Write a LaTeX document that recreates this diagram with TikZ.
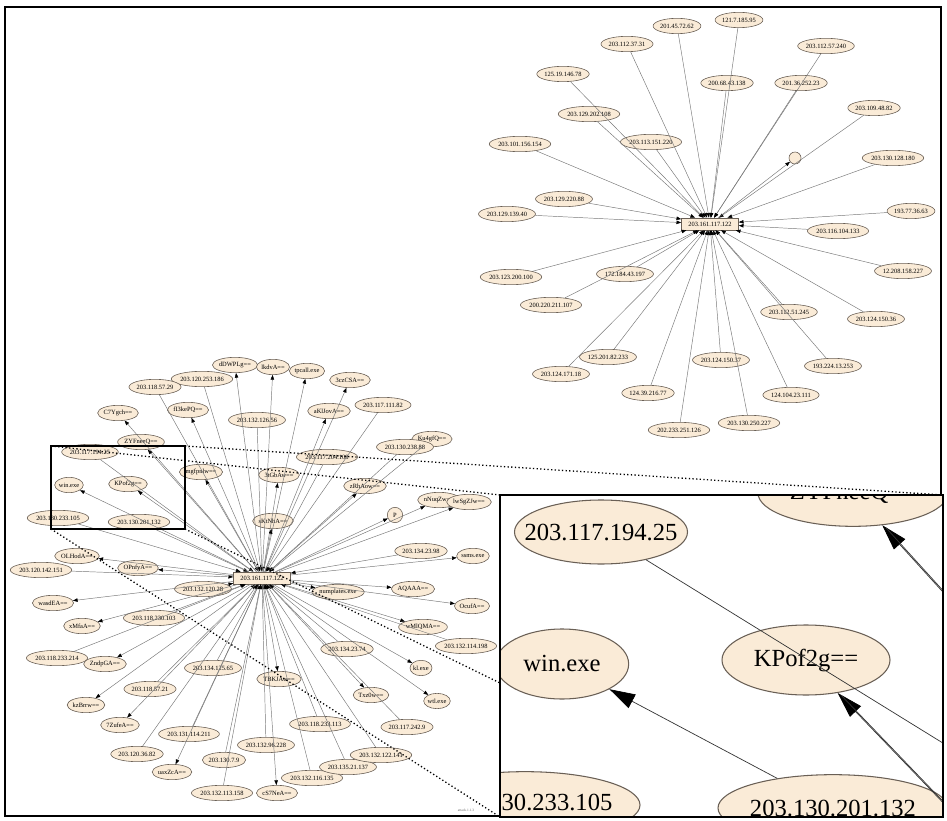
\documentclass[tikz,border=0pt]{standalone}
\usepackage{fontspec}
\setmainfont{Liberation Serif}
\usetikzlibrary{shapes.geometric,arrows.meta}
\definecolor{nodefill}{RGB}{250,235,215}
\definecolor{nodeline}{RGB}{105,95,85}
\definecolor{edgegray}{RGB}{120,120,120}
\tikzset{
  ip/.style={ellipse,draw=nodeline,fill=nodefill,line width=0.5pt,inner sep=0pt,
    minimum width=0.46cm,minimum height=0.46cm,font=\fontsize{5.5}{6}\selectfont},
  dotnode/.style={circle,draw=nodeline,fill=nodefill,line width=0.5pt,inner sep=0pt,minimum size=0.36cm},
  hubbox/.style={rectangle,draw=nodeline,fill=nodefill,line width=0.5pt,inner sep=0pt,
    minimum width=1.71cm,minimum height=0.36cm,font=\fontsize{5.5}{6}\selectfont},
  conn/.style={draw=edgegray,line width=0.4pt,-{Triangle[length=4pt,width=3pt,color=black]}},
  zoomnode/.style={ellipse,draw=nodeline,fill=nodefill,line width=0.9pt,inner sep=0pt,
    font=\fontsize{21}{23}\selectfont},
  zoomconn/.style={draw=black!80,line width=0.6pt,-{Triangle[length=22pt,width=13pt,color=black]}},
  zoomline/.style={draw=black!80,line width=0.6pt},
  dotted lens/.style={black,line width=1.1pt,dotted},
}
\begin{document}
\begin{tikzpicture}[x=0.03cm,y=-0.03cm]
  \useasboundingbox (0,0) rectangle (947,821);
  \draw[line width=1.5pt] (5,7) rectangle (941,816);

  % upper graph
  \node[hubbox] (hubA) at (710,224) {203.161.117.122};
  \foreach \n/\x/\y/\lab in {a1/677/26/201.45.72.62, a2/739/20/121.7.185.95,
      a3/627/44/203.112.37.31, a4/826/46/203.112.57.240, a5/563/74/125.19.146.78,
      a6/727/83/200.68.43.138, a7/801/83/201.36.252.23, a8/874/108/203.109.48.82,
      a9/589/114/203.129.202.108, a10/651/142/203.113.151.220, a11/520/144/203.101.156.154,
      a13/893/158/203.130.128.180, a14/564/199/203.129.220.88, a15/507/214/203.129.139.40,
      a16/911/211/193.77.36.63, a17/838/231/203.116.104.133, a18/511/277/203.123.200.100,
      a19/625/274/172.184.43.197, a20/903/271/12.208.158.227, a21/551/305/200.220.211.107,
      a22/789/312/203.112.51.245, a23/876/319/203.124.150.36, a24/608/357/125.201.82.233,
      a25/721/360/203.124.150.37, a26/561/374/203.124.171.18, a27/833/366/193.224.13.253,
      a28/648/393/124.39.216.77, a29/791/395/124.104.23.111, a30/749/423/203.130.250.227,
      a31/679/430/202.233.251.126}
    \node[ip] (\n) at (\x,\y) {\lab};
  \node[dotnode] (a12) at (795,158) {};
  \foreach \n in {1,...,11,13,14,...,31}
    \draw[conn] (a\n) -- (hubA);
  \draw[conn] (hubA) -- (a12);

  % lower graph
  \node[hubbox] (hubB) at (262,578) {203.161.117.122};
  \foreach \n/\x/\y/\lab in {b1/202/379/203.120.253.186, b2/155/387/203.118.57.29,
      b3/257/420/203.132.126.56, b4/383/405/203.117.111.82, b5/432/439/Ku4gfQ==,
      b6/405/447/203.130.238.88, b7/90/452/203.117.194.25, b8/327/457/203.117.204.108,
      b9/58/518/203.130.233.105, b10/139/522/203.130.201.132, b11/41/570/203.120.142.151,
      b12/203/589/203.132.120.28, b13/154/618/203.118.230.103, b14/57/658/203.118.233.214,
      b15/213/668/203.134.125.65, b16/150/689/203.118.57.21, b17/189/734/203.131.114.211,
      b18/137/754/203.120.36.82, b19/224/760/203.130.7.9, b20/222/793/203.132.113.158,
      b21/266/745/203.132.96.228, b22/312/778/203.132.116.135, b23/348/767/203.135.21.137,
      b24/381/755/203.132.122.141, b25/320/724/203.118.233.113, b26/407/727/203.117.242.9,
      b27/347/649/203.134.23.74, b28/466/646/203.132.114.198, b29/421/551/203.134.23.98}
    \node[ip] (\n) at (\x,\y) {\lab};
  \foreach \n/\x/\y/\lab in {c1/235/365/dDWPLg==, c2/273/367/lkdvA==, c3/307/371/tpcall.exe,
      c4/350/380/3czCSA==, c5/329/411/aKlJovA==, c6/118/413/C7Ygch==, c7/188/410/fI3kePQ==,
      c8/141/442/ZYFneeQ==, c9/201/472/mgfpnlw==, c10/279/475/3tGbAw==, c11/69/485/win.exe,
      c12/128/484/KPof2g==, c13/365/486/zRhAow==, c14/439/500/nNuqZw==, c15/469/502/lwSgZJw==,
      c16/395/515/P, c17/273/521/sKtNhA==, c18/473/556/ssms.exe, c19/77/556/OLHodA==,
      c20/138/568/OPnfyA==, c21/338/592/numplates.exe, c22/413/589/AQAAA==, c23/472/606/OcufA==,
      c24/53/603/wasdEA==, c25/82/626/xMfaA==, c26/423/627/wMlQMA==, c27/105/664/ZndpGA==,
      c28/421/668/kl.exe, c29/371/695/Txz0w==, c30/437/701/wtl.exe, c31/279/679/TBKJAw==,
      c32/86/705/kzBrrw==, c33/120/725/7ZufeA==, c34/172/772/uaxZcA==, c35/277/793/cS7NeA==}
    \node[ip] (\n) at (\x,\y) {\lab};
  \foreach \n in {1,...,29}
    \draw[conn] (b\n) -- (hubB);
  \foreach \n in {1,...,35}
    \draw[conn] (hubB) -- (c\n);
  \node[font=\fontsize{3}{3}\selectfont,text=black!60] (credit) at (466,810) {attack.1.1.3};

  % zoom frame and lens lines
  \coordinate (r1) at (51,446);
  \coordinate (r2) at (185,446);
  \coordinate (r3) at (51,529);
  \coordinate (r4) at (185,529);
  \coordinate (z1) at (500,495);
  \coordinate (z2) at (943,495);
  \coordinate (z3) at (500,817);
  \coordinate (z4) at (500,683);
  \draw[line width=1.3pt] (r1) rectangle (r4);
  \draw[dotted lens] (r1) -- (z1);
  \draw[dotted lens] (r2) -- (z2);
  \draw[dotted lens] (r3) -- (z3);
  \draw[dotted lens] (r4) -- (z4);

  % magnified inset
  \fill[white] (500,495) rectangle (943,817);
  \begin{scope}
    \clip (500,495) rectangle (943,817);
    \node[zoomnode,minimum width=5.19cm,minimum height=1.92cm] (zA) at (601,532) {\makebox[0pt]{203.117.194.25}};
    \node[zoomnode,minimum width=4.0cm,minimum height=2.1cm] (zwin) at (562,664) {\makebox[0pt]{win.exe}};
    \node[zoomnode,minimum width=5.04cm,minimum height=2.1cm] (zK) at (806,660) {\makebox[0pt]{KPof2g==}};
    \node[zoomnode,minimum width=6.9cm,minimum height=2.0cm] (zB) at (833,808) {\makebox[0pt]{203.130.201.132}};
    \node[zoomnode,minimum width=6.9cm,minimum height=2.0cm] (zC) at (525,805) {};
    \node[font=\fontsize{21}{23}\selectfont,inner sep=0pt] (zClab) at (557,802) {30.233.105};
    \node[zoomnode,minimum width=5.7cm,minimum height=2.0cm] (zZ) at (853,493) {\makebox[0pt]{ZYFneeQ==}};
    \coordinate (zoffA) at (1100,840);
    \coordinate (zoffK) at (1100,966);
    \coordinate (zoffZ) at (1100,765);
    \draw[zoomline] (zA) -- (zoffA);
    \draw[zoomconn] (zoffK) -- (zK);
    \draw[zoomline,transform canvas={xshift=3pt,yshift=-2pt}] (zoffK) -- (zK);
    \draw[zoomconn] (zoffZ) -- (zZ);
    \draw[zoomline,transform canvas={xshift=3pt,yshift=-2pt}] (zoffZ) -- (zZ);
    \draw[zoomconn] (zB) -- (zwin);
  \end{scope}
  \draw[line width=1.8pt] (500,495) rectangle (943,817);
\end{tikzpicture}
\end{document}
